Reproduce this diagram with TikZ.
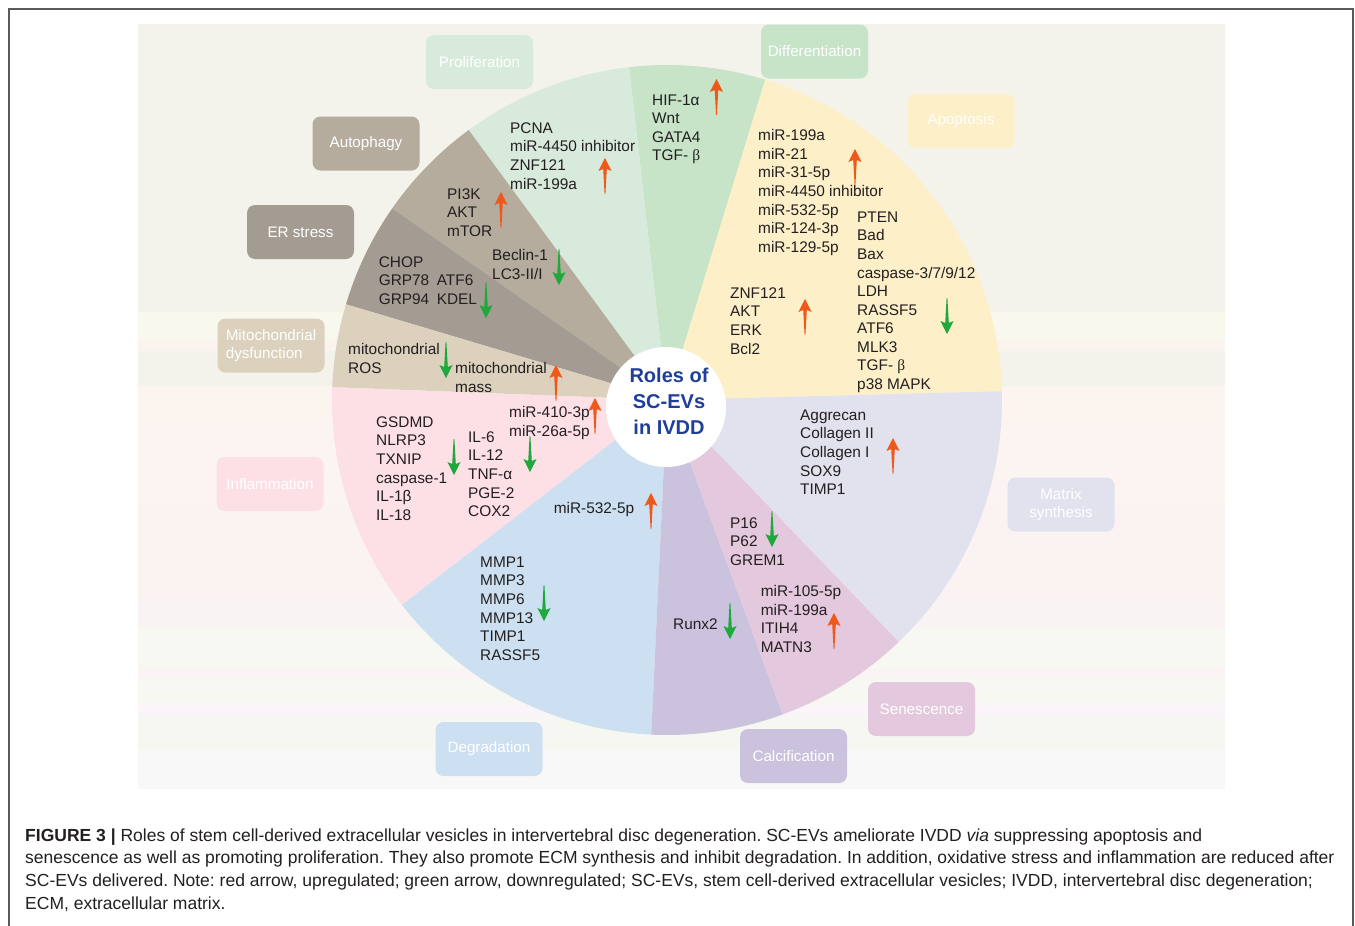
\documentclass[tikz,border=0pt]{standalone}
\usepackage{fontspec}
\setmainfont{Liberation Sans}
\newfontfamily\serifgr{Liberation Serif}

% colours
\definecolor{ink}{HTML}{231F20}
\definecolor{upred}{HTML}{EF581B}
\definecolor{downgreen}{HTML}{1FA83B}
\definecolor{titleblue}{HTML}{1F3F99}
\definecolor{framegray}{HTML}{5A5A5A}
\definecolor{secapop}{HTML}{FDEFC8}
\definecolor{secdiff}{HTML}{C7E3C8}
\definecolor{secprolif}{HTML}{D8EADB}
\definecolor{secauto}{HTML}{B5AC9E}
\definecolor{secer}{HTML}{A49C92}
\definecolor{secmito}{HTML}{DBD1BD}
\definecolor{secinfl}{HTML}{FDE0E6}
\definecolor{secdegr}{HTML}{CCE0F1}
\definecolor{seccalc}{HTML}{CBC2DE}
\definecolor{secsen}{HTML}{E4C8DE}
\definecolor{secmatrix}{HTML}{E2E1EE}
\definecolor{bgA}{HTML}{F3F3EC}
\definecolor{bgB}{HTML}{F9F8EF}
\definecolor{bgC}{HTML}{FBF3EE}
\definecolor{bgD}{HTML}{FBF4EF}
\definecolor{bgDD}{HTML}{FAF3F3}
\definecolor{bgE}{HTML}{F8F8F2}
\definecolor{bgF}{HTML}{FAF4F5}
\definecolor{bgG}{HTML}{FAF5F8}
\definecolor{bgH}{HTML}{F7F7F2}
\definecolor{bgI}{HTML}{F8F8F8}

\tikzset{
  catbox/.style={rounded corners=8pt, minimum width=107pt, minimum height=54pt,
    inner sep=0pt, text=white, align=center, font=\fontsize{15.2}{18}\selectfont},
  lbl/.style={anchor=north west, align=left, inner sep=0pt, text=ink,
    font=\fontsize{15.4}{18.6}\selectfont},
  upmark/.pic={\fill[upred] (0,0) -- (6.6,-13) -- (1.8,-11) -- (0.4,-36)
    -- (-0.4,-36) -- (-1.8,-11) -- (-6.6,-13) -- cycle;},
  downmark/.pic={\fill[downgreen] (0,0) -- (6.6,13) -- (1.8,11) -- (0.4,36)
    -- (-0.4,36) -- (-1.8,11) -- (-6.6,13) -- cycle;},
}

\begin{document}
\frenchspacing
\begin{tikzpicture}[x=1pt, y=1pt]
    \useasboundingbox (0,0) rectangle (1355,-926);

    % Background bands
    \fill[bgA] (138,-24) rectangle (1225,-312);
    \fill[bgB] (138,-312) rectangle (1225,-340);
    \fill[bgC] (138,-340) rectangle (1225,-351);
    \fill[bgA] (138,-351) rectangle (1225,-386);
    \shade[top color=bgD, bottom color=bgDD] (138,-386) rectangle (1225,-628);
    \fill[bgE] (138,-628) rectangle (1225,-668);
    \fill[bgF] (138,-668) rectangle (1225,-678);
    \fill[bgE] (138,-678) rectangle (1225,-703);
    \fill[bgG] (138,-703) rectangle (1225,-717);
    \fill[bgH] (138,-717) rectangle (1225,-750);
    \fill[bgI] (138,-750) rectangle (1225,-789);

    % Sectors
    \coordinate (C) at (667,-400);
    \fill[secapop] (C) -- ++(1.5:335) arc[start angle=1.5, end angle=73, radius=335] -- cycle;
    \fill[secdiff] (C) -- ++(73:335) arc[start angle=73, end angle=96.5, radius=335] -- cycle;
    \fill[secprolif] (C) -- ++(96.5:335) arc[start angle=96.5, end angle=126.3, radius=335] -- cycle;
    \fill[secauto] (C) -- ++(126.3:335) arc[start angle=126.3, end angle=145.1, radius=335] -- cycle;
    \fill[secer] (C) -- ++(145.1:335) arc[start angle=145.1, end angle=163.4, radius=335] -- cycle;
    \fill[secmito] (C) -- ++(163.4:335) arc[start angle=163.4, end angle=177.8, radius=335] -- cycle;
    \fill[secinfl] (C) -- ++(177.8:335) arc[start angle=177.8, end angle=217.7, radius=335] -- cycle;
    \fill[secdegr] (C) -- ++(217.7:335) arc[start angle=217.7, end angle=267.3, radius=335] -- cycle;
    \fill[seccalc] (C) -- ++(267.3:335) arc[start angle=267.3, end angle=290.2, radius=335] -- cycle;
    \fill[secsen] (C) -- ++(290.2:335) arc[start angle=290.2, end angle=313.8, radius=335] -- cycle;
    \fill[secmatrix] (C) -- ++(313.8:335) arc[start angle=313.8, end angle=361.5, radius=335] -- cycle;

    % Centre
    \node[circle, fill=white, minimum size=120pt, inner sep=0pt] (core) at (666,-407) {};
    \node[align=center, text=titleblue, font=\fontsize{20}{26}\bfseries] (title) at (669,-401)
        {Roles of\\SC-EVs\\in IVDD};

    % Category boxes
    \node[catbox, fill=secprolif] (prolif) at (479.5,-62) {Proliferation};
    \node[catbox, fill=secdiff] (diff) at (814.5,-51.5) {Differentiation};
    \node[catbox, fill=secapop] (apop) at (961,-121) {Apoptosis};
    \node[catbox, fill=secauto] (auto) at (366,-143.5) {Autophagy};
    \node[catbox, fill=secer] (er) at (300.5,-232) {ER stress};
    \node[catbox, fill=secmito, align=left] (mito) at (271,-345.5) {Mitochondrial\\dysfunction};
    \node[catbox, fill=secinfl] (infl) at (270,-484) {Inflammation};
    \node[catbox, fill=secmatrix] (matrix) at (1061,-504.5) {Matrix\\synthesis};
    \node[catbox, fill=secsen] (sen) at (921.5,-709) {Senescence};
    \node[catbox, fill=seccalc] (calc) at (793.5,-756) {Calcification};
    \node[catbox, fill=secdegr] (degr) at (489,-749) {Degradation};

    % Gene lists
    \node[lbl] (diffgenes) at (652,-94.4) {HIF-1α\\Wnt\\GATA4\\TGF- {\serifgr β}};
    \node[lbl] (prolifgenes) at (510,-122.4) {PCNA\\miR-4450 inhibitor\\ZNF121\\miR-199a};
    \node[lbl] (autoup) at (447,-188.4) {PI3K\\AKT\\mTOR};
    \node[lbl] (autodown) at (492,-249.4) {Beclin-1\\LC3-II/I};
    \node[lbl] (ergenes) at (378.6,-256.4) {CHOP\\GRP78\hspace{7.5pt}ATF6\\GRP94\hspace{7.5pt}KDEL};
    \node[lbl] (mitoros) at (348,-343.4) {mitochondrial\\ROS};
    \node[lbl] (mitomass) at (455,-362.4) {mitochondrial\\mass};
    \node[lbl] (inflmir) at (509,-406.4) {miR-410-3p\\miR-26a-5p};
    \node[lbl] (inflpyro) at (376,-416.4) {GSDMD\\NLRP3\\TXNIP\\caspase-1\\IL-1β\\IL-18};
    \node[lbl] (inflcyto) at (468,-431.4) {IL-6\\IL-12\\TNF-α\\PGE-2\\COX2};
    \node[lbl] (degrmir) at (553.6,-502.4) {miR-532-5p};
    \node[lbl] (degrmmp) at (480,-556.4) {MMP1\\MMP3\\MMP6\\MMP13\\TIMP1\\RASSF5};
    \node[lbl] (calcgenes) at (673,-618.4) {Runx2};
    \node[lbl] (sengenes) at (730,-517.4) {P16\\P62\\GREM1};
    \node[lbl] (senmir) at (760.6,-585.4) {miR-105-5p\\miR-199a\\ITIH4\\MATN3};
    \node[lbl] (matrixgenes) at (800,-409.4) {Aggrecan\\Collagen II\\Collagen I\\SOX9\\TIMP1};
    \node[lbl] (apopmir) at (758,-129.4) {miR-199a\\miR-21\\miR-31-5p\\miR-4450 inhibitor\\miR-532-5p\\miR-124-3p\\miR-129-5p};
    \node[lbl] (apopdown) at (857,-211.4) {PTEN\\Bad\\Bax\\caspase-3/7/9/12\\LDH\\RASSF5\\ATF6\\MLK3\\TGF- {\serifgr β}\\p38 MAPK};
    \node[lbl] (apopup) at (730,-287.4) {ZNF121\\AKT\\ERK\\Bcl2};

    % Up and down marks
    \pic at (716.5,-79) {upmark};
    \pic at (605,-158) {upmark};
    \pic at (855,-149) {upmark};
    \pic at (805,-299) {upmark};
    \pic at (947,-334) {downmark};
    \pic at (501,-192) {upmark};
    \pic at (559,-285) {downmark};
    \pic at (486,-318) {downmark};
    \pic at (446,-378) {downmark};
    \pic at (556,-365) {upmark};
    \pic at (595,-398) {upmark};
    \pic at (454,-475) {downmark};
    \pic at (530,-472) {downmark};
    \pic at (651,-493) {upmark};
    \pic at (544,-621) {downmark};
    \pic at (893,-438) {upmark};
    \pic at (772,-547) {downmark};
    \pic at (834,-613) {upmark};
    \pic at (730,-639) {downmark};

    % Frame and caption
    \draw[framegray, line width=1.5pt] (9,-926) -- (9,-9) -- (1353,-9) -- (1353,-926);
    \node[anchor=north west, align=left, inner sep=0pt, text=ink, font=\fontsize{17.5}{22.7}\selectfont] (caption) at (25,-828.3)
        {\textbf{FIGURE 3 |} Roles of stem cell-derived extracellular vesicles in intervertebral disc degeneration. SC-EVs ameliorate IVDD \textit{via} suppressing apoptosis and\\
         senescence as well as promoting proliferation. They also promote ECM synthesis and inhibit degradation. In addition, oxidative stress and inflammation are reduced after\\
         SC-EVs delivered. Note: red arrow, upregulated; green arrow, downregulated; SC-EVs, stem cell-derived extracellular vesicles; IVDD, intervertebral disc degeneration;\\
         ECM, extracellular matrix.};
\end{tikzpicture}
\end{document}
